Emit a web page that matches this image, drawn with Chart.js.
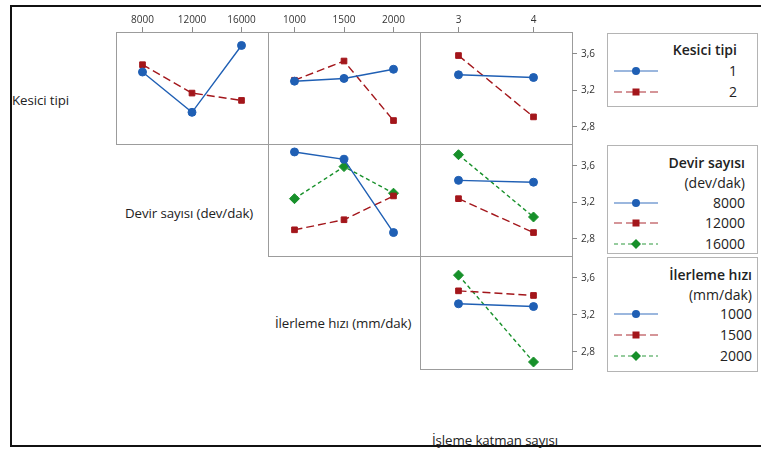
<!DOCTYPE html>
<html><head><meta charset="utf-8">
<script src="https://cdn.jsdelivr.net/npm/chart.js@4/dist/chart.umd.min.js"></script>
<style>
html,body{margin:0;padding:0;}
body{width:761px;height:449px;background:#fff;overflow:hidden;position:relative;font-family:'Open Sans',sans-serif;color:#222;}
.abs{position:absolute;}
.frame{position:absolute;box-sizing:border-box;border:1px solid #9c9c9c;}
.lbl{position:absolute;font-size:13.3px;white-space:nowrap;line-height:14px;color:#222;letter-spacing:-0.1px;}
.legend{position:absolute;box-sizing:border-box;border:1px solid #b4b4b4;background:#fff;}
.ltxt{position:absolute;font-size:14px;line-height:16px;white-space:nowrap;text-align:right;color:#222;}
.ltitle{font-weight:600;}
canvas{position:absolute;}
</style></head><body>
<div class="abs" style="left:10px;top:5px;width:800px;height:442px;box-sizing:border-box;border:2px solid #111;"></div>
<div id="root"></div>
<script>
// ---------- DATA ----------
const kesiciLevels = ['1', '2'];
const devirLevels = [8000, 12000, 16000];
const ilerlemeLevels = [1000, 1500, 2000];
const katmanLevels = [3, 4];
const yTickValues = [2.8, 3.2, 3.6];

// Row 1: Kesici tipi
const kesici1_devir = [3.40, 2.96, 3.69];
const kesici2_devir = [3.48, 3.17, 3.09];
const kesici1_ilerleme = [3.30, 3.33, 3.43];
const kesici2_ilerleme = [3.31, 3.52, 2.87];
const kesici1_katman = [3.37, 3.34];
const kesici2_katman = [3.58, 2.91];
// Row 2: Devir sayısı
const devir8000_ilerleme = [3.75, 3.67, 2.87];
const devir12000_ilerleme = [2.90, 3.01, 3.27];
const devir16000_ilerleme = [3.24, 3.59, 3.30];
const devir8000_katman = [3.44, 3.42];
const devir12000_katman = [3.24, 2.87];
const devir16000_katman = [3.72, 3.04];
// Row 3: İlerleme hızı
const ilerleme1000_katman = [3.32, 3.29];
const ilerleme1500_katman = [3.46, 3.41];
const ilerleme2000_katman = [3.63, 2.69];

const factorNames = ['Kesici tipi', 'Devir sayısı (dev/dak)', 'İlerleme hızı (mm/dak)', 'İşleme katman sayısı'];

// ---------- LAYOUT / STYLE ----------
const colX = [116, 268, 420, 572];
const rowY = [32, 144, 256, 369];
const Y_MIN = 2.614, Y_MAX = 3.837;
const styles = [
  {color:'#1f5fb4', dash:[], point:'circle', radius:4},
  {color:'#a3161b', dash:[8,4], point:'rect', radius:4},
  {color:'#17902a', dash:[4,3], point:'rectRot', radius:5}
];
const root = document.getElementById('root');

const panels = [
  {r:0, c:0, x:devirLevels, s:[kesici1_devir, kesici2_devir]},
  {r:0, c:1, x:ilerlemeLevels, s:[kesici1_ilerleme, kesici2_ilerleme]},
  {r:0, c:2, x:katmanLevels, s:[kesici1_katman, kesici2_katman]},
  {r:1, c:1, x:ilerlemeLevels, s:[devir8000_ilerleme, devir12000_ilerleme, devir16000_ilerleme]},
  {r:1, c:2, x:katmanLevels, s:[devir8000_katman, devir12000_katman, devir16000_katman]},
  {r:2, c:2, x:katmanLevels, s:[ilerleme1000_katman, ilerleme1500_katman, ilerleme2000_katman]}
];

function el(tag, cls, css, html){
  const e = document.createElement(tag);
  if (cls) e.className = cls;
  if (css) e.style.cssText = css;
  if (html !== undefined) e.textContent = html;
  root.appendChild(e);
  return e;
}

// frames
panels.forEach(p => {
  el('div','frame',`left:${colX[p.c]}px;top:${rowY[p.r]}px;width:${colX[p.c+1]-colX[p.c]+1}px;height:${rowY[p.r+1]-rowY[p.r]+1}px;`);
});

Chart.defaults.font.family = "'Open Sans', sans-serif";

function noPad(s){ s.paddingTop = 0; s.paddingBottom = 0; s.paddingLeft = 0; s.paddingRight = 0; }

panels.forEach(p => {
  const topAxis = p.r === 0, rightAxis = p.c === 2;
  const AXH = 22, AXW = 40;
  const w = colX[p.c+1]-colX[p.c], h = rowY[p.r+1]-rowY[p.r];
  const cw = w + (rightAxis ? AXW : 0), ch = h + (topAxis ? AXH : 0);
  const cv = el('canvas', '', `left:${colX[p.c]}px;top:${rowY[p.r]-(topAxis?AXH:0)}px;width:${cw}px;height:${ch}px;`);
  cv.width = cw; cv.height = ch;
  const n = p.x.length;
  const step = p.x[1]-p.x[0];
  const pad = (n === 3 ? 0.535 : 0.513) * step;
  const datasets = p.s.map((vals, i) => ({
    data: vals.map((v, k) => ({x: p.x[k], y: v})),
    borderColor: styles[i].color,
    backgroundColor: styles[i].color,
    borderDash: styles[i].dash,
    borderWidth: 1.4,
    pointStyle: styles[i].point,
    pointRadius: styles[i].radius,
    pointBorderWidth: 1,
    tension: 0,
    clip: false
  }));
  new Chart(cv, {
    type: 'line',
    data: {datasets},
    options: {
      responsive: false, animation: false, devicePixelRatio: 1,
      layout: {padding: 0, autoPadding: false},
      plugins: {legend: {display:false}, tooltip: {enabled:false}},
      scales: {
        x: {
          type: 'linear', position: 'top', display: topAxis,
          min: p.x[0]-pad, max: p.x[n-1]+pad,
          afterBuildTicks: s => { s.ticks = p.x.map(v => ({value:v})); },
          afterFit: s => { s.height = topAxis ? AXH : 0; noPad(s); },
          ticks: {callback: v => String(v), autoSkip:false, maxRotation:0, padding:1, color:'#333', font:{size:10}},
          grid: {display:true, drawOnChartArea:false, drawTicks:true, tickLength:5, color:'#8a8a8a'},
          border: {display:false}
        },
        y: {
          type: 'linear', position: 'right', display: rightAxis,
          min: Y_MIN, max: Y_MAX,
          afterBuildTicks: s => { s.ticks = yTickValues.map(v => ({value:v})); },
          afterFit: s => { s.width = rightAxis ? AXW : 0; noPad(s); },
          ticks: {callback: v => v.toFixed(1).replace('.', ','), autoSkip:false, padding:4, color:'#333', font:{size:10}},
          grid: {display:true, drawOnChartArea:false, drawTicks:true, tickLength:5, color:'#8a8a8a'},
          border: {display:false}
        }
      }
    }
  });
});

// factor labels on diagonal
el('div','lbl','left:12px;top:93px;', factorNames[0]);
el('div','lbl','left:125px;top:206px;', factorNames[1]);
el('div','lbl','left:275px;top:316px;', factorNames[2]);
el('div','lbl','left:432px;top:433px;', factorNames[3]);

// legends
function sample(i, x, y){
  const st = styles[i];
  const svg = document.createElementNS('http://www.w3.org/2000/svg','svg');
  svg.setAttribute('width','46'); svg.setAttribute('height','12');
  svg.style.cssText = `position:absolute;left:${x}px;top:${y-6}px;`;
  const ln = document.createElementNS(svg.namespaceURI,'line');
  ln.setAttribute('x1','0'); ln.setAttribute('x2','44'); ln.setAttribute('y1','6'); ln.setAttribute('y2','6');
  ln.setAttribute('stroke', st.color); ln.setAttribute('stroke-width','1.3'); ln.setAttribute('stroke-opacity','0.6');
  if (st.dash.length) ln.setAttribute('stroke-dasharray', st.dash.join(' '));
  svg.appendChild(ln);
  let m;
  if (st.point === 'circle') { m = document.createElementNS(svg.namespaceURI,'circle'); m.setAttribute('cx','22'); m.setAttribute('cy','6'); m.setAttribute('r','4'); }
  else if (st.point === 'rect') { m = document.createElementNS(svg.namespaceURI,'rect'); m.setAttribute('x','18.5'); m.setAttribute('y','2.5'); m.setAttribute('width','7'); m.setAttribute('height','7'); }
  else { m = document.createElementNS(svg.namespaceURI,'polygon'); m.setAttribute('points','22,1 27,6 22,11 17,6'); }
  m.setAttribute('fill', st.color);
  svg.appendChild(m);
  root.appendChild(svg);
}
function legend(box, right, titleLines, titleYs, labels, itemYs){
  el('div','legend',`left:${box[0]}px;top:${box[1]}px;width:${box[2]-box[0]}px;height:${box[3]-box[1]}px;`);
  titleLines.forEach((t, k) => {
    el('div','ltxt' + (k===0?' ltitle':''), `right:${761-right}px;top:${titleYs[k]-8}px;`, t);
  });
  labels.forEach((t, k) => {
    sample(k, 614, itemYs[k]);
    el('div','ltxt', `right:${761-right}px;top:${itemYs[k]-8}px;`, t);
  });
}
legend([607,33,758,107], 737, ['Kesici tipi'], [50], kesiciLevels, [71, 92]);
legend([607,145,758,254], 745, ['Devir sayısı', '(dev/dak)'], [163, 183], devirLevels.map(String), [203, 223, 244]);
legend([607,257,758,372], 752, ['İlerleme hızı', '(mm/dak)'], [275, 295], ilerlemeLevels.map(String), [314, 335, 356]);
</script>
</body></html>
